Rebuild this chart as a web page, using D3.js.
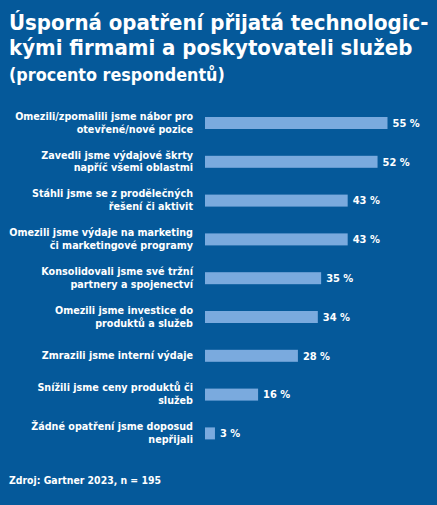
<!DOCTYPE html>
<html><head><meta charset="utf-8">
<script src="https://cdn.jsdelivr.net/npm/d3@7"></script>
<style>
html,body{margin:0;padding:0;background:#05599a;}
svg{display:block;}
text{font-family:"DejaVu Sans Condensed","Liberation Sans Narrow","Roboto",sans-serif;fill:#fff;}
</style></head>
<body>
<script>
const titleLines = ["Úsporná opatření přijatá technologic-", "kými firmami a poskytovateli služeb"];
const subtitle = "(procento respondentů)";
const source = "Zdroj: Gartner 2023, n = 195";
const categories = [
  ["Omezili/zpomalili jsme nábor pro", "otevřené/nové pozice"],
  ["Zavedli jsme výdajové škrty", "napříč všemi oblastmi"],
  ["Stáhli jsme se z prodělečných", "řešení či aktivit"],
  ["Omezili jsme výdaje na marketing", "či marketingové programy"],
  ["Konsolidovali jsme své tržní", "partnery a spojenectví"],
  ["Omezili jsme investice do", "produktů a služeb"],
  ["Zmrazili jsme interní výdaje"],
  ["Snížili jsme ceny produktů či", "služeb"],
  ["Žádné opatření jsme doposud", "nepřijali"]
];
const values = [55, 52, 43, 43, 35, 34, 28, 16, 3];
const valueSuffix = " %";

const W = 437, H = 505;
const svg = d3.select("body").append("svg").attr("width", W).attr("height", H);
svg.append("rect").attr("width", W).attr("height", H).attr("fill", "#05599a");

const ids = categories.map((c, i) => i);
const x = d3.scaleLinear().domain([0, 55]).range([205, 387.5]);
const y = d3.scalePoint().domain(ids).range([123, 433.4]);
const barH = 12;

// title
const t = svg.append("g");
titleLines.forEach((l, i) => {
  t.append("text").attr("x", 9).attr("y", 30 + i * 24.5)
    .attr("font-size", 22).attr("font-weight", "bold").text(l);
});
t.append("text").attr("x", 9).attr("y", 81).attr("font-size", 17.8)
  .attr("font-weight", "bold").text(subtitle);

// bars
svg.append("g").selectAll("rect").data(ids).join("rect")
  .attr("x", x(0)).attr("y", i => y(i) - barH / 2)
  .attr("width", i => x(values[i]) - x(0)).attr("height", barH)
  .attr("fill", "#7aaade");

// value labels
svg.append("g").selectAll("text").data(ids).join("text")
  .attr("x", i => x(values[i]) + 5).attr("y", i => y(i))
  .attr("dy", "0.35em").attr("font-size", 11).attr("font-weight", "bold")
  .text(i => values[i] + valueSuffix);

// category labels
const lh = 12.8;
const lg = svg.append("g");
ids.forEach(i => {
  const lines = categories[i];
  const n = lines.length;
  lines.forEach((l, k) => {
    lg.append("text").attr("x", 193).attr("text-anchor", "end")
      .attr("y", y(i) - 0.5 + (k - (n - 1) / 2) * lh).attr("dy", "0.35em")
      .attr("font-size", 10.7).attr("font-weight", "bold").text(l);
  });
});

svg.append("text").attr("x", 9).attr("y", 484).attr("font-size", 10.4)
  .attr("font-weight", "bold").text(source);
</script>
</body></html>
